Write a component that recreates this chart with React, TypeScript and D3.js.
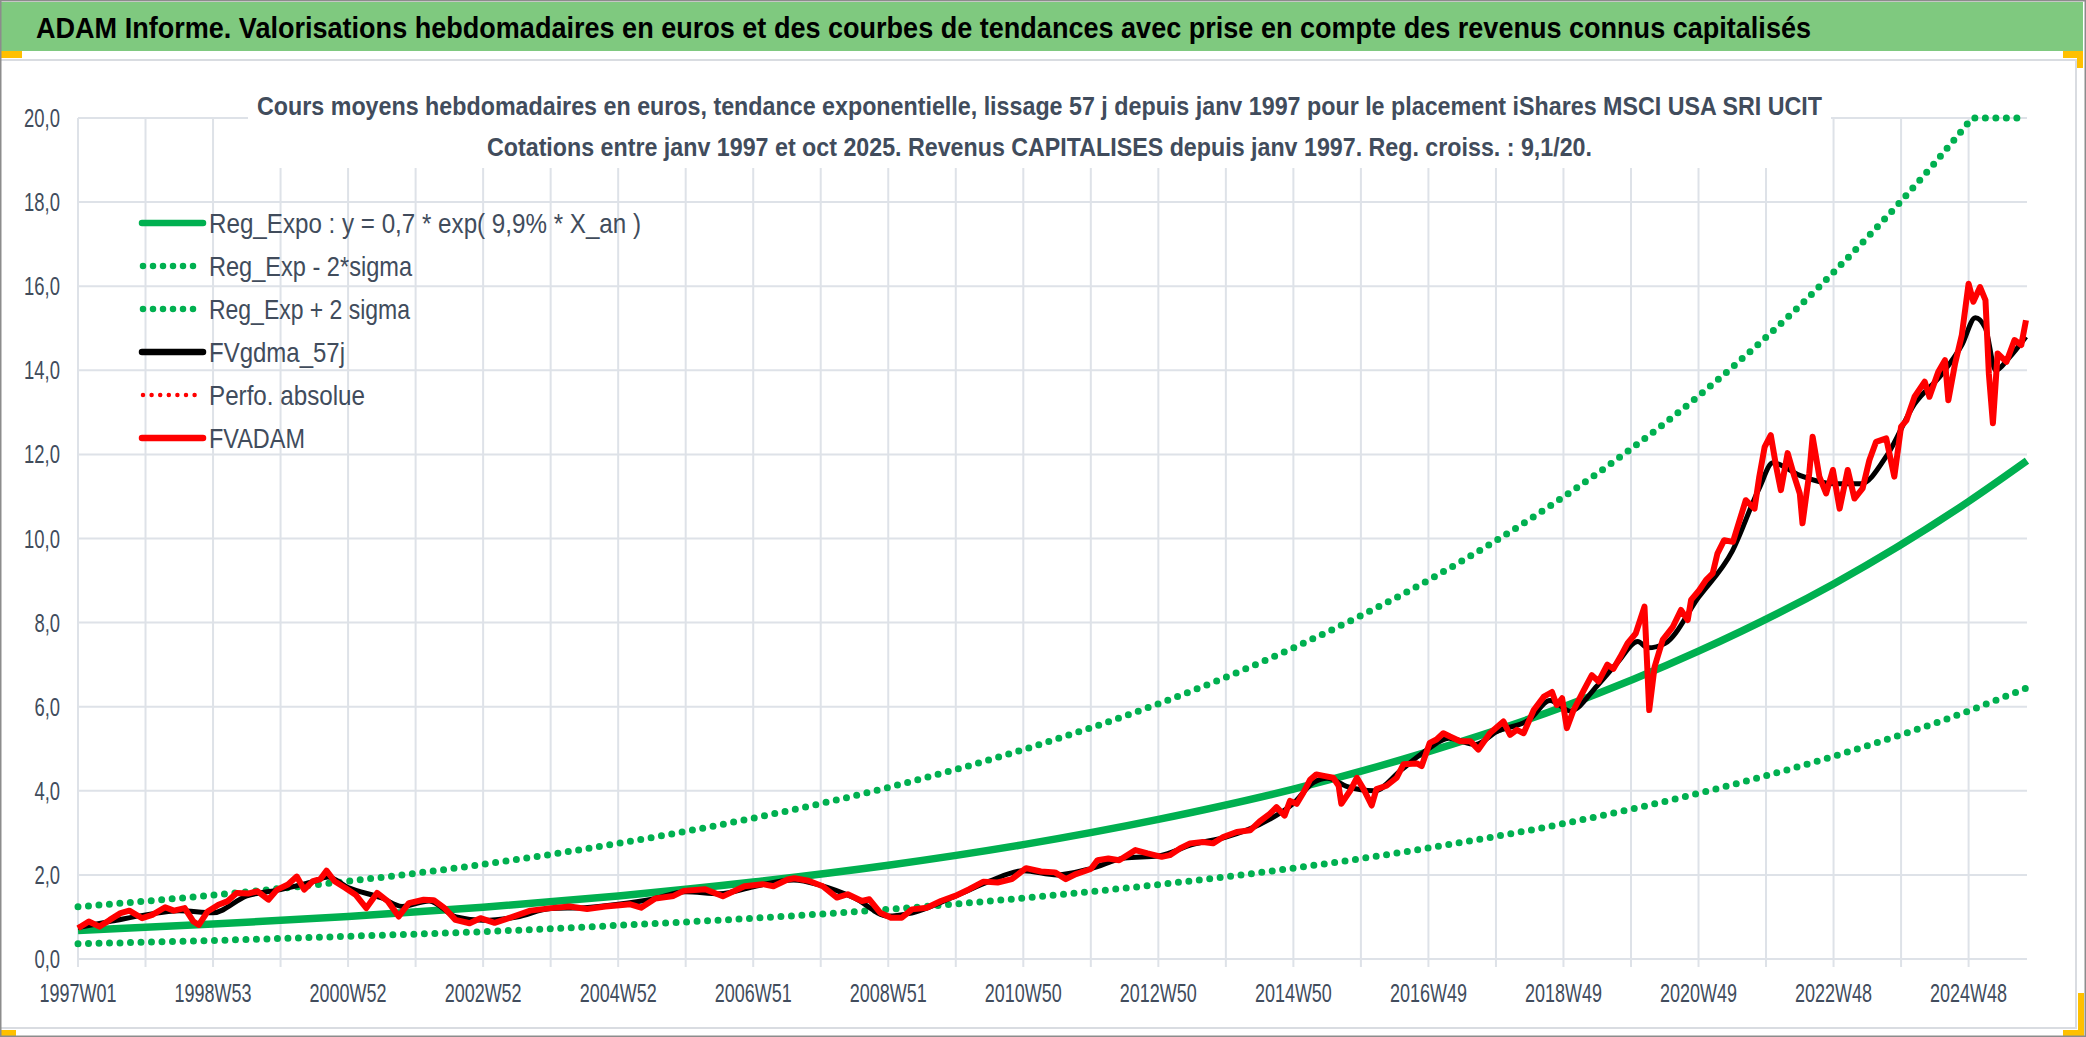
import React from "react";
import * as d3 from "d3";

// ---------- data ----------
// x positions are expressed in years elapsed since 1997W01 (one gridline per 52 weeks)
const xTickLabels = [
  "1997W01", "1998W53", "2000W52", "2002W52", "2004W52", "2006W51", "2008W51",
  "2010W50", "2012W50", "2014W50", "2016W49", "2018W49", "2020W49", "2022W48", "2024W48",
];
const yTickValues = [0, 2, 4, 6, 8, 10, 12, 14, 16, 18, 20];

const trendYears = [0, 2, 4, 6, 8, 10, 12, 14, 16, 18, 20, 22, 24, 26, 28, 28.865];
const regValues = [0.68, 0.83, 1.01, 1.23, 1.5, 1.83, 2.23, 2.72, 3.32, 4.04, 4.93, 6.0, 7.32, 8.92, 10.88, 11.85];
const lowerValues = [0.36, 0.44, 0.54, 0.65, 0.8, 0.97, 1.18, 1.45, 1.77, 2.16, 2.64, 3.22, 3.94, 4.82, 5.9, 6.45];
const upperYears = [0, 2, 4, 6, 8, 10, 12, 14, 16, 18, 20, 22, 24, 26, 28, 28.05, 28.865];
const upperValues = [1.24, 1.52, 1.85, 2.25, 2.75, 3.35, 4.08, 4.98, 6.07, 7.4, 9.01, 10.99, 13.39, 16.33, 19.9, 20, 20];

const fvadamYears = [
  0, 0.16, 0.32, 0.47, 0.63, 0.76, 0.95, 1.1, 1.29, 1.42, 1.58, 1.71, 1.79, 1.92, 2.08, 2.21, 2.35, 2.53,
  2.66, 2.82, 2.95, 3.11, 3.24, 3.35, 3.48, 3.59, 3.68, 3.8, 3.96, 4.11, 4.27, 4.43, 4.59, 4.75, 4.9,
  5.12, 5.27, 5.43, 5.59, 5.8, 5.96, 6.17, 6.38, 6.7, 7.01, 7.28, 7.54, 7.81, 8.02, 8.18, 8.34, 8.55,
  8.82, 8.97, 9.29, 9.55, 9.87, 10.14, 10.3, 10.51, 10.61, 10.82, 11.03, 11.24, 11.4, 11.61, 11.72,
  11.88, 12.04, 12.2, 12.35, 12.57, 12.78, 12.99, 13.2, 13.41, 13.62, 13.83, 14.04, 14.26, 14.47,
  14.63, 14.78, 15.0, 15.1, 15.26, 15.42, 15.66, 15.84, 16.05, 16.17, 16.32, 16.47, 16.66, 16.81,
  16.96, 17.16, 17.36, 17.5, 17.65, 17.75, 17.87, 17.95, 18.05, 18.15, 18.25, 18.34, 18.47, 18.59,
  18.67, 18.71, 18.84, 18.94, 19.04, 19.16, 19.23, 19.38, 19.53, 19.63, 19.83, 19.9, 20.02, 20.12,
  20.22, 20.32, 20.47, 20.62, 20.74, 20.91, 21.11, 21.21, 21.31, 21.41, 21.56, 21.71, 21.83, 21.9,
  21.98, 22.05, 22.15, 22.3, 22.42, 22.52, 22.65, 22.74, 22.84, 22.95, 23.07, 23.2, 23.27, 23.35,
  23.47, 23.62, 23.74, 23.84, 23.89, 24.01, 24.11, 24.21, 24.28, 24.38, 24.51, 24.61, 24.7, 24.83,
  24.9, 24.98, 25.07, 25.15, 25.22, 25.32, 25.42, 25.5, 25.54, 25.64, 25.69, 25.79, 25.89, 25.99,
  26.09, 26.21, 26.31, 26.43, 26.53, 26.63, 26.78, 26.9, 27.0, 27.08, 27.2, 27.35, 27.42, 27.55,
  27.65, 27.7, 27.8, 27.9, 28.0, 28.07, 28.17, 28.25, 28.3, 28.36, 28.43, 28.56, 28.68, 28.78, 28.85,
];
const fvadamValues = [
  0.73, 0.89, 0.77, 0.93, 1.09, 1.15, 0.97, 1.05, 1.23, 1.15, 1.21, 0.89, 0.81, 1.13, 1.29, 1.37, 1.57, 1.56,
  1.61, 1.41, 1.65, 1.77, 1.96, 1.65, 1.85, 1.9, 2.1, 1.85, 1.69, 1.53, 1.21, 1.57, 1.37, 1.01, 1.33,
  1.41, 1.4, 1.21, 0.93, 0.85, 0.97, 0.86, 0.97, 1.15, 1.21, 1.25, 1.19, 1.25, 1.28, 1.3, 1.22, 1.44,
  1.5, 1.62, 1.66, 1.49, 1.73, 1.78, 1.73, 1.89, 1.92, 1.86, 1.73, 1.46, 1.54, 1.38, 1.42,
  1.1, 0.98, 0.98, 1.18, 1.22, 1.38, 1.5, 1.66, 1.84, 1.82, 1.9, 2.16, 2.08, 2.06,
  1.9, 2.02, 2.14, 2.35, 2.39, 2.35, 2.59, 2.51, 2.43, 2.47, 2.63, 2.75, 2.78, 2.75,
  2.9, 3.02, 3.06, 3.27, 3.45, 3.61, 3.41, 3.76, 3.69, 3.96, 4.27, 4.39, 4.35, 4.31,
  4.12, 3.69, 4.0, 4.31, 4.04, 3.65, 4.04, 4.12, 4.31, 4.63, 4.65, 4.59, 5.14, 5.22,
  5.37, 5.29, 5.18, 5.18, 4.98, 5.37, 5.65, 5.33, 5.45, 5.37, 5.92, 6.24, 6.35, 6.04,
  6.2, 5.49, 5.92, 6.39, 6.75, 6.6, 7.0, 6.9, 7.18, 7.51, 7.74, 8.38, 5.92, 6.95,
  7.59, 7.9, 8.3, 8.06, 8.54, 8.77, 9.01, 9.17, 9.64, 9.96, 9.92, 10.44, 10.91, 10.71,
  11.47, 12.18, 12.46, 11.71, 11.15, 12.03, 11.47, 11.07, 10.36, 11.55, 12.42, 11.47, 11.07, 11.63,
  10.71, 11.63, 10.95, 11.19, 11.86, 12.3, 12.38, 11.47, 12.66, 12.81, 13.37, 13.73, 13.37, 13.96,
  14.24, 13.29, 14.16, 14.84, 16.06, 15.63, 15.98, 15.67, 13.92, 12.74, 14.4, 14.2, 14.72, 14.6, 15.19,
];

const gdmaYears = [
  0, 0.5, 1, 1.5, 2, 2.5, 3, 3.5, 3.7, 4, 4.5, 4.8, 5.2, 5.6, 6, 6.5, 7, 7.5, 8, 8.5, 9, 9.5, 10,
  10.6, 11, 11.5, 12, 12.3, 13, 13.5, 14, 14.5, 15, 15.5, 16, 16.5, 17, 17.5, 18, 18.3, 18.5, 18.8,
  19.2, 19.6, 20, 20.3, 20.7, 21, 21.5, 21.8, 22.1, 22.5, 22.8, 23.1, 23.25, 23.5, 24, 24.5, 24.9,
  25.1, 25.5, 26, 26.4, 26.8, 27.2, 27.6, 27.9, 28.1, 28.25, 28.4, 28.6, 28.85,
];
const gdmaValues = [
  0.75, 0.9, 1.05, 1.15, 1.1, 1.5, 1.65, 1.85, 1.95, 1.7, 1.45, 1.25, 1.38, 1.0, 0.92, 1.0, 1.2, 1.22,
  1.3, 1.42, 1.6, 1.55, 1.72, 1.88, 1.75, 1.45, 1.02, 1.08, 1.5, 1.85, 2.1, 2.0, 2.15, 2.4, 2.45, 2.72,
  2.9, 3.2, 3.7, 4.2, 4.3, 4.1, 4.0, 4.5, 5.0, 5.25, 5.1, 5.4, 5.7, 6.15, 5.9, 6.5, 7.05, 7.55, 7.4,
  7.5, 8.6, 9.7, 11.2, 11.8, 11.5, 11.3, 11.3, 12.0, 13.2, 13.9, 14.6, 15.25, 15.0, 14.0, 14.3, 14.8,
];

const legendLabels = [
  "Reg_Expo : y = 0,7 * exp( 9,9% *  X_an )",
  "Reg_Exp - 2*sigma",
  "Reg_Exp + 2 sigma",
  "FVgdma_57j",
  "Perfo. absolue",
  "FVADAM",
];
const legendTextLengths = [432, 203, 201, 136, 156, 96];

const mainTitle =
  "ADAM Informe. Valorisations hebdomadaires en euros et des courbes de tendances avec prise en compte des revenus connus capitalisés";
const subTitle1 =
  "Cours moyens hebdomadaires en euros, tendance exponentielle, lissage 57 j depuis janv 1997 pour le placement iShares MSCI USA SRI UCIT";
const subTitle2 =
  "Cotations entre janv 1997 et oct 2025. Revenus CAPITALISES depuis janv 1997. Reg. croiss. : 9,1/20.";

// ---------- styles ----------
const FONT = "'Liberation Sans Narrow','Liberation Sans',Arimo,'Open Sans',sans-serif";
const GREEN = "#00B050";
const RED = "#FF0000";
const TEXT = "#414C5C";
const GRID = "#DEE2E8";
const SVG_W = 2086;
const SVG_H = 1037;

function zip(a, b) {
  return a.map(function (v, i) {
    return [v, b[i]];
  });
}

function LegendSample(props) {
  const i = props.i;
  const yy = props.yy;
  const x1 = 142;
  const x2 = 203;
  if (i === 0) return <line x1={x1} y1={yy} x2={x2} y2={yy} stroke={GREEN} strokeWidth={6.5} strokeLinecap="round" />;
  if (i === 1 || i === 2)
    return <line x1={x1 + 1} y1={yy} x2={x2} y2={yy} stroke={GREEN} strokeWidth={6.5} strokeLinecap="round" strokeDasharray="0 10" />;
  if (i === 3) return <line x1={x1} y1={yy} x2={x2} y2={yy} stroke="#000" strokeWidth={6.5} strokeLinecap="round" />;
  if (i === 4)
    return <line x1={x1 + 1} y1={yy} x2={x2} y2={yy} stroke={RED} strokeWidth={4.5} strokeLinecap="round" strokeDasharray="0 8.6" />;
  return <line x1={x1} y1={yy} x2={x2} y2={yy} stroke={RED} strokeWidth={6.5} strokeLinecap="round" />;
}

export default function App() {
  const plotL = 78;
  const plotR = 2027;
  const plotT = 118;
  const plotB = 959;
  const x = d3.scaleLinear().domain([0, 28.865]).range([plotL, plotR]);
  const y = d3.scaleLinear().domain([0, 20]).range([plotB, plotT]);

  const lineSmooth = d3
    .line()
    .x(function (d) { return x(d[0]); })
    .y(function (d) { return y(d[1]); })
    .curve(d3.curveMonotoneX);
  const lineRaw = d3
    .line()
    .x(function (d) { return x(d[0]); })
    .y(function (d) { return y(d[1]); })
    .curve(d3.curveLinear);

  const regPath = lineSmooth(zip(trendYears, regValues)) || "";
  const lowerPath = lineSmooth(zip(trendYears, lowerValues)) || "";
  const upperPath = lineSmooth(zip(upperYears, upperValues)) || "";
  const redPath = lineRaw(zip(fvadamYears, fvadamValues)) || "";
  const blackPath = lineSmooth(zip(gdmaYears, gdmaValues)) || "";

  const yearGrid = d3.range(0, 29);
  const legendY = [223, 266, 309, 352, 395, 438];

  return (
    <div style={{ position: "fixed", left: 0, top: 0, width: SVG_W, height: SVG_H, background: "#fff" }}>
      <svg width={SVG_W} height={SVG_H} style={{ display: "block", fontFamily: FONT }}>
        <rect x={0} y={0} width={SVG_W} height={SVG_H} fill="#fff" />
        {/* green title bar */}
        <rect x={0} y={2} width={2083} height={49} fill="#7FC97F" />
        <text x={36} y={38} fontSize={30} fontWeight={700} fill="#000" textLength={1775} lengthAdjust="spacingAndGlyphs">
          {mainTitle}
        </text>
        {/* chart area border */}
        <rect x={-1} y={60} width={2077} height={968} fill="#fff" stroke="#D9DCE1" strokeWidth={2} />

        {/* gridlines */}
        {yTickValues.map(function (v) {
          return <line key={"h" + v} x1={plotL} x2={plotR} y1={y(v)} y2={y(v)} stroke={GRID} strokeWidth={2} />;
        })}
        {yearGrid.map(function (t) {
          return <line key={"v" + t} x1={x(t)} x2={x(t)} y1={plotT} y2={plotB + 8} stroke={GRID} strokeWidth={2} />;
        })}

        {/* subtitle box */}
        <rect x={248} y={70} width={1583} height={98} fill="#fff" />
        <text x={257} y={115} fontSize={26} fontWeight={700} fill={TEXT} textLength={1565} lengthAdjust="spacingAndGlyphs">
          {subTitle1}
        </text>
        <text x={487} y={156} fontSize={26} fontWeight={700} fill={TEXT} textLength={1105} lengthAdjust="spacingAndGlyphs">
          {subTitle2}
        </text>

        {/* y labels */}
        {yTickValues.map(function (v) {
          const s = d3.format(".1f")(v).replace(".", ",");
          const len = (s.length - 1) * 10.3 + 5;
          return (
            <text key={"yl" + v} x={60 - len} y={y(v) + 9} fontSize={26} fill={TEXT} textLength={len} lengthAdjust="spacingAndGlyphs">
              {s}
            </text>
          );
        })}
        {/* x labels */}
        {xTickLabels.map(function (lab, i) {
          return (
            <text key={lab} x={x(i * 2) - 38.5} y={1002} fontSize={26} fill={TEXT} textLength={77} lengthAdjust="spacingAndGlyphs">
              {lab}
            </text>
          );
        })}

        {/* series */}
        <path d={regPath} fill="none" stroke={GREEN} strokeWidth={7.5} />
        <path d={lowerPath} fill="none" stroke={GREEN} strokeWidth={7} strokeLinecap="round" strokeDasharray="0 10.5" />
        <path d={upperPath} fill="none" stroke={GREEN} strokeWidth={7} strokeLinecap="round" strokeDasharray="0 10.5" />
        <path d={blackPath} fill="none" stroke="#000" strokeWidth={5} strokeLinejoin="round" />
        <path d={redPath} fill="none" stroke={RED} strokeWidth={6} strokeLinejoin="round" />

        {/* legend */}
        {legendLabels.map(function (lab, i) {
          return (
            <g key={lab}>
              <LegendSample i={i} yy={legendY[i]} />
              <text x={209} y={legendY[i] + 10} fontSize={28} fill={TEXT} textLength={legendTextLengths[i]} lengthAdjust="spacingAndGlyphs">
                {lab}
              </text>
            </g>
          );
        })}

        {/* selection handles */}
        <rect x={0} y={51} width={22} height={7} fill="#FFC000" />
        <rect x={2063} y={51} width={20} height={7} fill="#FFC000" />
        <rect x={2077} y={51} width={6} height={17} fill="#FFC000" />
        <rect x={0} y={1030} width={16} height={6} fill="#FFC000" />
        <rect x={2063} y={1030} width={20} height={7} fill="#FFC000" />
        <rect x={2078} y={993} width={6} height={44} fill="#FFC000" />

        {/* outer frame */}
        <rect x={0.5} y={0.5} width={SVG_W - 1} height={SVG_H - 1} fill="none" stroke="#8C8C8C" strokeWidth={2} />
      </svg>
    </div>
  );
}
